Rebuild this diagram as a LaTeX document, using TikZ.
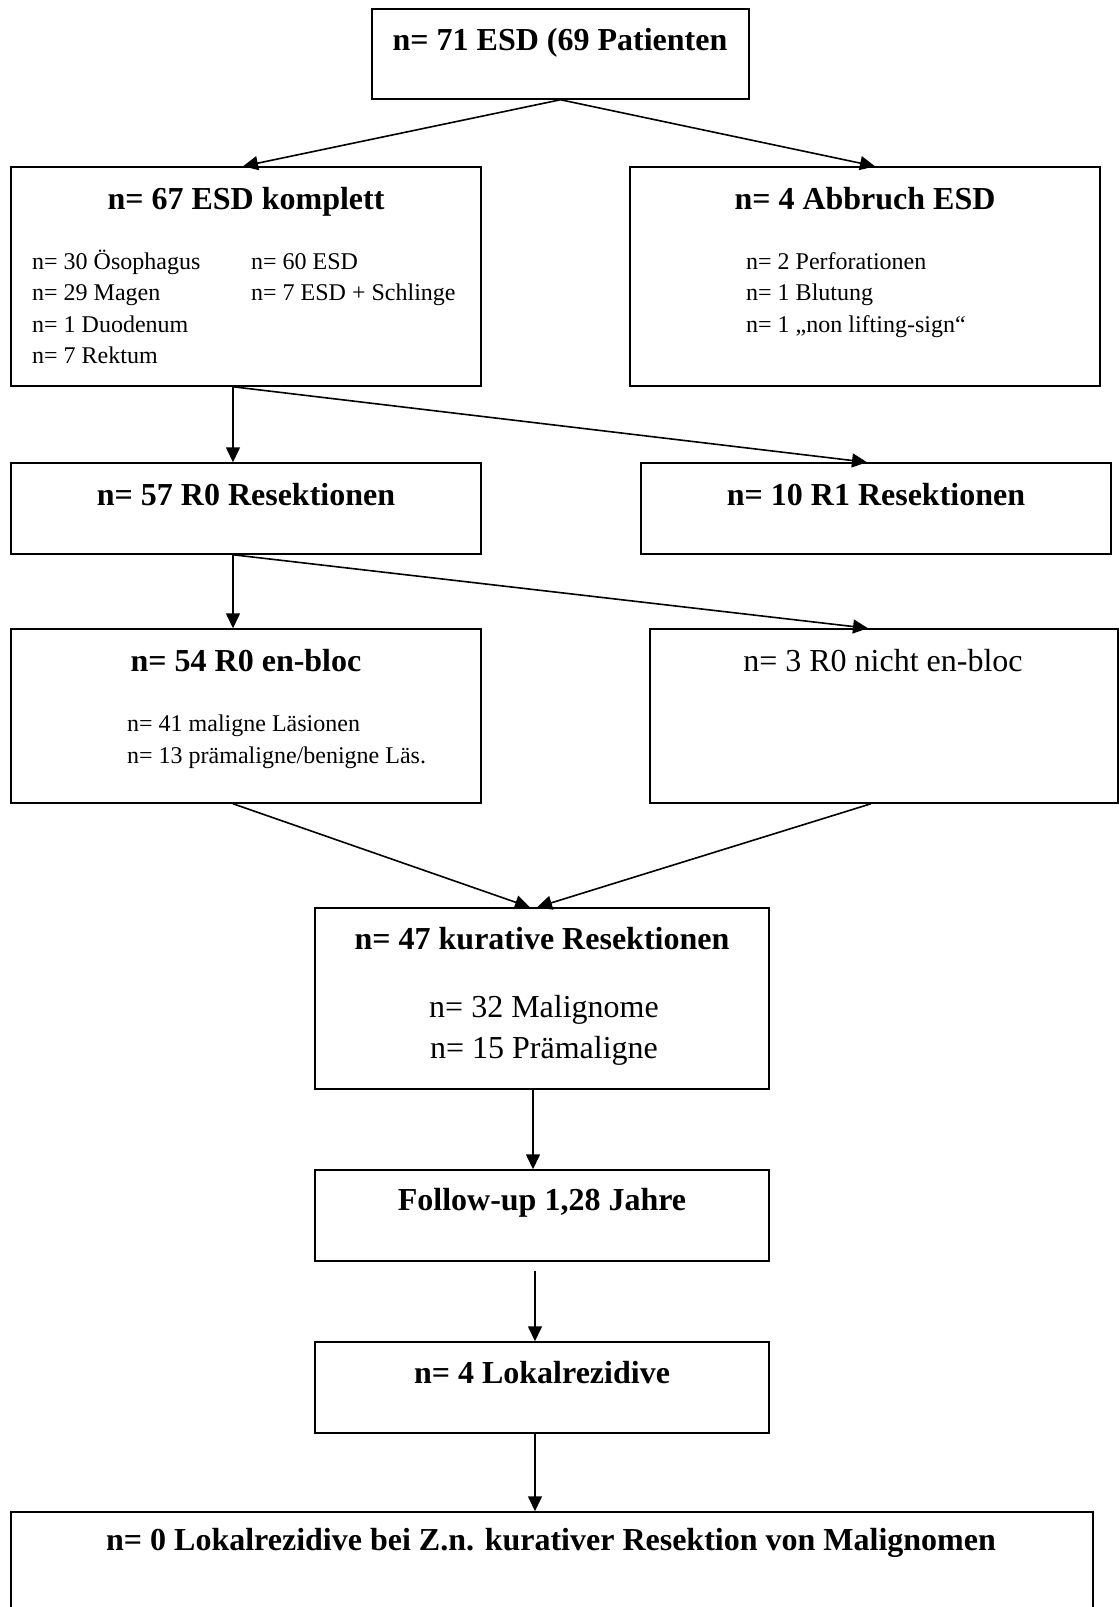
\documentclass[tikz,border=0pt]{standalone}
\usepackage{fontspec}
\setmainfont{Liberation Serif}
\usetikzlibrary{arrows.meta}

\begin{document}
\begin{tikzpicture}[x=1pt, y=-1pt,
    box/.style={draw=black, line width=1.5pt, inner sep=0pt},
    titel/.style={anchor=base, inner sep=0pt, font=\fontsize{32}{38}\selectfont\bfseries},
    zeile/.style={anchor=base west, inner sep=0pt, font=\fontsize{24}{30}\selectfont},
    gross/.style={anchor=base, inner sep=0pt, font=\fontsize{32}{38}\selectfont},
    pfeil/.style={-{Triangle[length=15pt, width=14pt]}, line width=1.6pt}]
                \useasboundingbox (0,0) rectangle (1119,1607);

                % Kaesten
                \node [box, minimum width=377pt, minimum height=90pt] (ESD) at (560.5,54) {};
                \node [box, minimum width=470pt, minimum height=219pt] (KOMPL) at (246,276.5) {};
                \node [box, minimum width=470pt, minimum height=219pt] (ABBR) at (865,276.5) {};
                \node [box, minimum width=470pt, minimum height=91pt] (RNULL) at (246,508.5) {};
                \node [box, minimum width=470pt, minimum height=91pt] (REINS) at (876,508.5) {};
                \node [box, minimum width=470pt, minimum height=174pt] (ENBLOC) at (246,716) {};
                \node [box, minimum width=468pt, minimum height=174pt] (NICHT) at (884,716) {};
                \node [box, minimum width=454pt, minimum height=181pt] (KURAT) at (542,998.5) {};
                \node [box, minimum width=454pt, minimum height=91pt] (FOLLOW) at (542,1215.5) {};
                \node [box, minimum width=454pt, minimum height=91pt] (LOKAL) at (542,1387.5) {};
                \node [box, minimum width=1082pt, minimum height=118pt] (NULL) at (552,1571) {};

                % Texte
                \node [titel] (ESDt) at (560,50) {n= 71 ESD (69 Patienten};

                \node [titel] (KOMPLt) at (246,209) {n= 67 ESD komplett};
                \node [zeile] (KOMPLa) at (32,269) {n= 30 Ösophagus};
                \node [zeile] (KOMPLb) at (32,300) {n= 29 Magen};
                \node [zeile] (KOMPLc) at (32,332) {n= 1 Duodenum};
                \node [zeile] (KOMPLd) at (32,363) {n= 7 Rektum};
                \node [zeile] (KOMPLe) at (251,269) {n= 60 ESD};
                \node [zeile] (KOMPLf) at (251,300) {n= 7 ESD + Schlinge};

                \node [titel] (ABBRt) at (865,209) {n= 4 Abbruch ESD};
                \node [zeile] (ABBRa) at (746,269) {n= 2 Perforationen};
                \node [zeile] (ABBRb) at (746,300) {n= 1 Blutung};
                \node [zeile] (ABBRc) at (746,332) {n= 1 „non lifting-sign“};

                \node [titel] (RNULLt) at (246,505) {n= 57 R0 Resektionen};
                \node [titel] (REINSt) at (876,505) {n= 10 R1 Resektionen};

                \node [titel] (ENBLOCt) at (246,671) {n= 54 R0 en-bloc};
                \node [zeile] (ENBLOCa) at (127,731) {n= 41 maligne Läsionen};
                \node [zeile] (ENBLOCb) at (127,763) {n= 13 prämaligne/benigne Läs.};
                \node [gross] (NICHTt) at (883,671) {n= 3 R0 nicht en-bloc};

                \node [titel] (KURATt) at (542,949) {n= 47 kurative Resektionen};
                \node [gross] (KURATa) at (544,1017) {n= 32 Malignome};
                \node [gross] (KURATb) at (544,1058) {n= 15 Prämaligne};

                \node [titel] (FOLLOWt) at (542,1210) {Follow-up 1,28 Jahre};
                \node [titel] (LOKALt) at (542,1383) {n= 4 Lokalrezidive};
                \node [titel] (NULLt) at (551,1550) {n= 0 Lokalrezidive bei Z.n. kurativer Resektion von Malignomen};

                % Pfeile
                \draw [pfeil] (ESD.south) -- ([xshift=-3pt]KOMPL.north);
                \draw [pfeil] (ESD.south) -- ([xshift=10pt]ABBR.north);
                \draw [pfeil] ([xshift=-13pt]KOMPL.south) -- ([xshift=-13pt]RNULL.north);
                \draw [pfeil] ([xshift=-13pt]KOMPL.south) -- ([xshift=-9pt]REINS.north);
                \draw [pfeil] ([xshift=-13pt]RNULL.south) -- ([xshift=-13pt]ENBLOC.north);
                \draw [pfeil] ([xshift=-13pt]RNULL.south) -- ([xshift=-16pt]NICHT.north);
                \draw [pfeil] ([xshift=-13pt]ENBLOC.south) -- ([xshift=-12pt]KURAT.north);
                \draw [pfeil] ([xshift=-13pt]NICHT.south) -- ([xshift=-5pt]KURAT.north);
                \draw [pfeil] ([xshift=-9pt]KURAT.south) -- ([xshift=-9pt]FOLLOW.north);
                \draw [pfeil] ([xshift=-7pt, yshift=-9pt]FOLLOW.south) -- ([xshift=-7pt]LOKAL.north);
                \draw [pfeil] ([xshift=-7pt]LOKAL.south) -- ([xshift=-17pt]NULL.north);
            \end{tikzpicture}
\end{document}
